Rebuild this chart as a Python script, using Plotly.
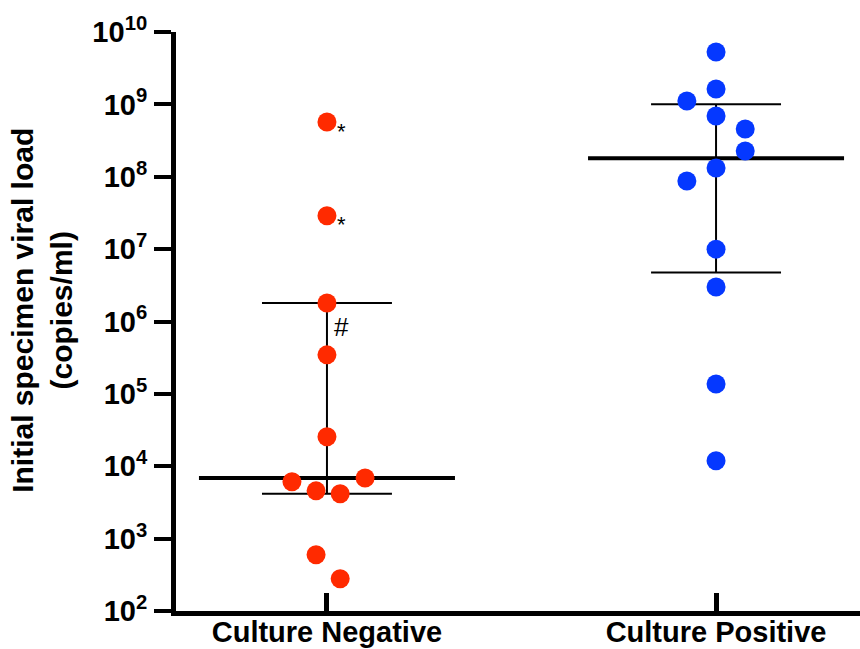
import numpy as np
import plotly.graph_objects as go

# ---- data ----
categories = ["Culture Negative", "Culture Positive"]

neg_values = [5.7e8, 2.9e7, 1.8e6, 3.46e5, 2.55e4, 6.1e3, 6.9e3, 4.57e3, 4.16e3, 5.97e2, 2.79e2]
neg_jitter = [0.0, 0.0, 0.0, 0.0, 0.0, -0.09, 0.098, -0.028, 0.034, -0.028, 0.034]

pos_values = [5.3e9, 1.63e9, 1.11e9, 6.9e8, 4.57e8, 2.27e8, 1.32e8, 8.75e7, 1.0e7, 3.0e6, 1.37e5, 1.19e4]
pos_jitter = [0.0, 0.0, -0.075, 0.0, 0.075, 0.075, 0.0, -0.075, 0.0, 0.0, 0.0, 0.0]

tick_exponents = [2, 3, 4, 5, 6, 7, 8, 9, 10]
tick_labels = ["10<sup>%d</sup>" % e for e in tick_exponents]

# annotations: (index of point in neg_values, symbol)
neg_marks = [(0, "*"), (1, "*"), (2, "#")]

# ---- styles ----
FONT = "Liberation Sans, Arial, sans-serif"
RED = "#FF2A00"
BLUE = "#0538FF"
MED_HW = 0.329
IQR_HW = 0.167

fig = go.Figure()

groups = [(0, neg_values, neg_jitter, RED), (1, pos_values, pos_jitter, BLUE)]

for c, vals, jit, col in groups:
    arr = np.array(vals)
    med = float(np.median(arr))
    q1, q3 = np.percentile(arr, [25, 75], method="weibull")
    fig.add_trace(go.Scatter(x=[c, c], y=[q1, q3], mode="lines",
                             line=dict(color="black", width=2), hoverinfo="skip", showlegend=False))
    for q in (q1, q3):
        fig.add_trace(go.Scatter(x=[c - IQR_HW, c + IQR_HW], y=[q, q], mode="lines",
                                 line=dict(color="black", width=2), hoverinfo="skip", showlegend=False))
    fig.add_trace(go.Scatter(x=[c - MED_HW, c + MED_HW], y=[med, med], mode="lines",
                             line=dict(color="black", width=4), hoverinfo="skip", showlegend=False))

for c, vals, jit, col in groups:
    fig.add_trace(go.Scatter(
        x=[c + j for j in jit], y=vals, mode="markers",
        marker=dict(color=col, size=19, line=dict(width=0)),
        name=categories[c], showlegend=False))

annotations = []
for idx, sym in neg_marks:
    if sym == "*":
        annotations.append(dict(x=neg_jitter[idx], y=np.log10(neg_values[idx]), xref="x", yref="y",
                                text="*", showarrow=False, xshift=15, yshift=-9,
                                font=dict(family=FONT, size=22, color="black")))
    else:
        annotations.append(dict(x=neg_jitter[idx], y=np.log10(neg_values[idx]), xref="x", yref="y",
                                text="#", showarrow=False, xshift=15, yshift=-24,
                                font=dict(family=FONT, size=26, color="black")))

annotations.append(dict(
    x=-0.196, y=0.52, xref="paper", yref="paper",
    text="Initial specimen viral load<br>(copies/ml)", textangle=-90,
    showarrow=False, xanchor="center", yanchor="middle",
    font=dict(family=FONT, size=30, color="black", weight="bold")))

fig.update_layout(
    width=860, height=649,
    margin=dict(l=176, r=0, t=32, b=38, pad=0, autoexpand=False),
    paper_bgcolor="white", plot_bgcolor="white",
    showlegend=False,
    annotations=annotations,
    xaxis=dict(
        range=[-0.388, 1.370], automargin=False,
        tickvals=[0, 1], ticktext=categories,
        ticks="inside", ticklen=18, tickwidth=5, tickcolor="black",
        showline=True, linewidth=5, linecolor="black",
        showgrid=False, zeroline=False,
        ticklabelstandoff=-9,
        tickfont=dict(family=FONT, size=29, color="black", weight="bold"),
    ),
    yaxis=dict(
        type="log", range=[2, 10], automargin=False,
        tickvals=[10 ** e for e in tick_exponents], ticktext=tick_labels,
        ticks="outside", ticklen=17, tickwidth=4, tickcolor="black",
        showline=True, linewidth=5, linecolor="black",
        showgrid=False, zeroline=False,
        ticklabelstandoff=1,
        tickfont=dict(family=FONT, size=29, color="black", weight="bold"),
    ),
)

fig.write_html("out.html", config={"displayModeBar": False},
               post_script="document.body.style.margin='0px';document.documentElement.style.overflow='hidden';")
